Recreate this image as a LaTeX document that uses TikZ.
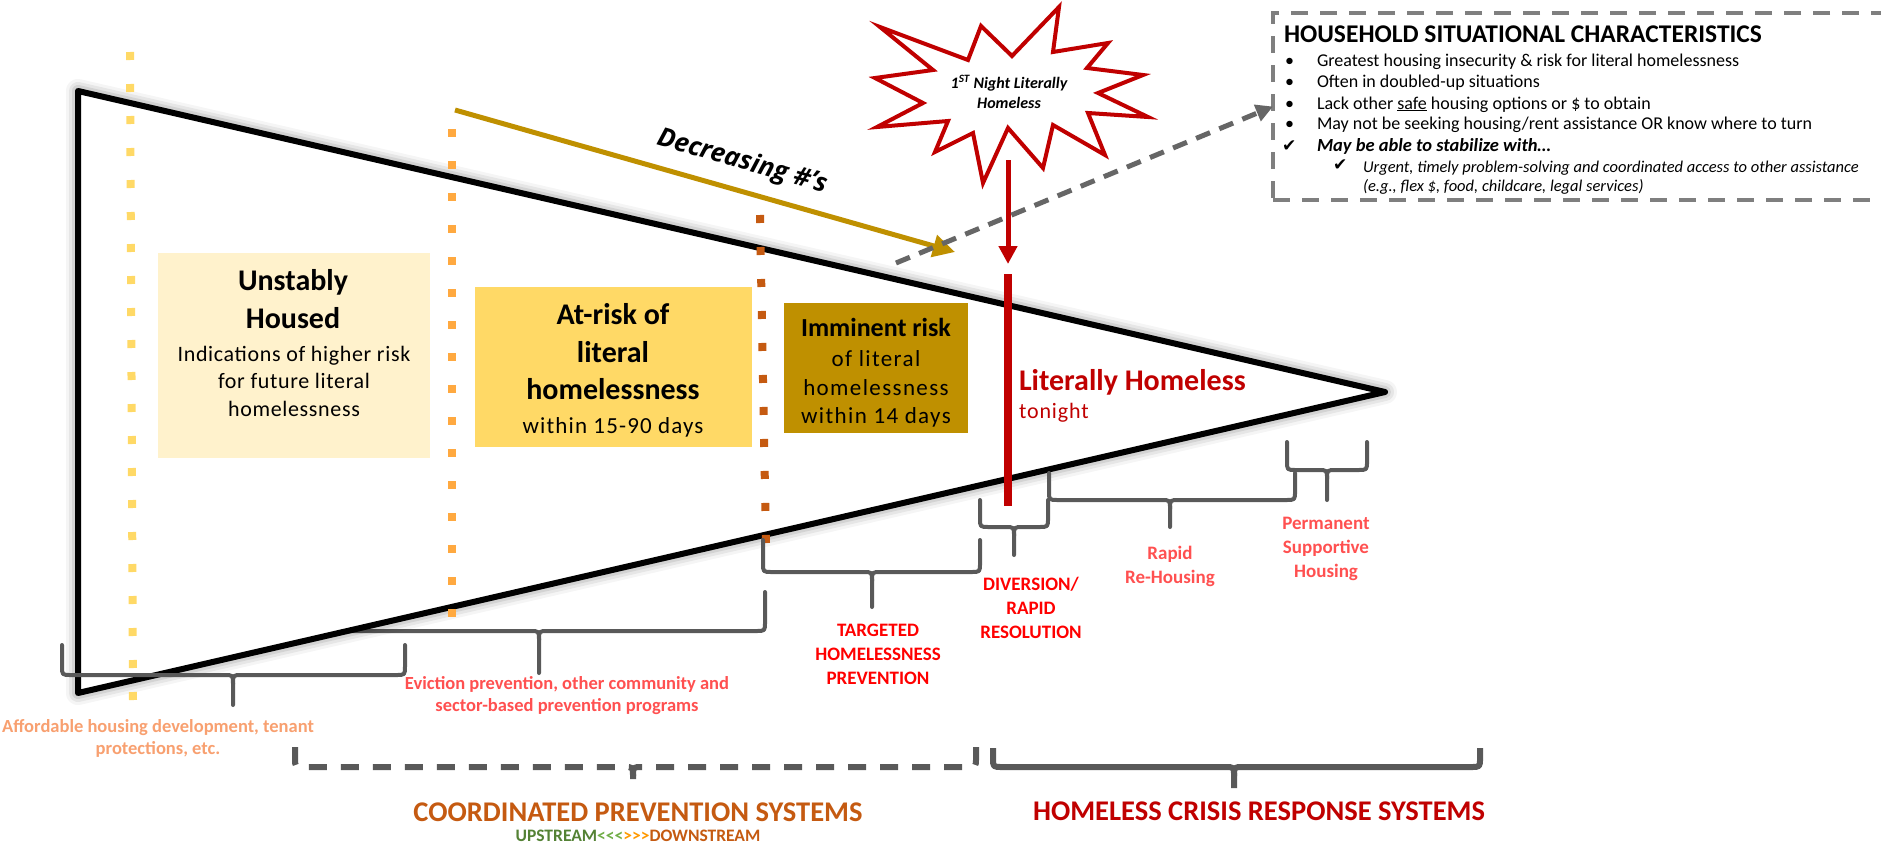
\documentclass[tikz,border=0pt]{standalone}
\usepackage{fontspec}
\setmainfont{Carlito}
\newfontfamily\carlnl{Carlito}
\newfontfamily\osans{Open Sans}
\newfontfamily\djv{DejaVu Sans}
\usetikzlibrary{arrows.meta}
\definecolor{cUnst}{HTML}{FFF2CC}
\definecolor{cRisk}{HTML}{FFD966}
\definecolor{cImm}{HTML}{BF9000}
\definecolor{dred}{HTML}{C00000}
\definecolor{bred}{HTML}{FF0000}
\definecolor{lred}{HTML}{FF5050}
\definecolor{peach}{HTML}{F8A070}
\definecolor{brn}{HTML}{C55A11}
\definecolor{bgray}{HTML}{595959}
\definecolor{hgray}{HTML}{7F7F7F}
\definecolor{agray}{HTML}{666666}
\definecolor{dgreen}{HTML}{548235}
\definecolor{lgreen}{HTML}{70AD47}
\definecolor{orng}{HTML}{FF9900}
\definecolor{dotY}{HTML}{FFD966}
\definecolor{dotO}{HTML}{FFA940}
\definecolor{dotB}{HTML}{C55A11}
\newcommand\myfs[2]{\fontsize{#1}{#2}\selectfont}
\newcommand\mybrace[7][]{%
  \draw[#1] (#2,#5) -- ({#2},{#6-9}) .. controls (#2,#6) .. ({#2+9},#6) -- ({#4-9},#6) .. controls (#4,#6) .. ({#4},{#6+9}) -- (#4,#7);
  \draw[#1] (#3,#5) -- ({#3},{#6-9}) .. controls (#3,#6) .. ({#3-9},#6) -- ({#4+9},#6) .. controls (#4,#6) .. ({#4},{#6+9});
}
\tikzset{
  every node/.style={inner sep=0pt, outer sep=0pt},
  brc/.style={draw=bgray, line width=4pt, line cap=round, line join=round},
  bigbrc/.style={draw=bgray, line width=6pt, line join=round},
  dashbrc/.style={draw=bgray, line width=6pt, dash pattern=on 18pt off 14pt},
  dotline/.style={line width=8pt, dash pattern=on 8pt off 24pt},
  boxfill/.style={anchor=north west, draw=none},
  titletxt/.style={font=\myfs{30}{37.5}\bfseries, align=center},
  subtxt/.style={font=\myfs{22}{27.5}\addfontfeature{LetterSpace=3}, align=center},
  lbl/.style={font=\myfs{18.5}{22}\bfseries, align=center},
  hhtxt/.style={anchor=west, font=\myfs{18}{21}, text height=12pt, text depth=4pt},
}
\begin{document}
\begin{tikzpicture}[x=1pt,y=-1pt]
\useasboundingbox (0,0) rectangle (1881,846);
\fill[white] (0,0) rectangle (1881,846);

% coordinates of the triangle
\coordinate (tl) at (78,91);
\coordinate (ap) at (1385,392);
\coordinate (bl) at (78,693);

% brace hidden partly behind the triangle
\mybrace[brc]{300}{765}{539}{592}{631}{673}

% soft shadow
\begin{scope}[shift={(-8,10)}]
  \foreach \w/\o in {24/0.04,18/0.06,12/0.08,6/0.12}
    \draw[line width=\w pt, black, opacity=\o, line join=round] (tl) -- (ap) -- (bl) -- cycle;
  \fill[black!40] (tl) -- (ap) -- (bl) -- cycle;
\end{scope}

% triangle
\draw[line width=6pt, line join=round, fill=white] (tl) -- (ap) -- (bl) -- cycle;

% dotted dividers
\draw[dotline, dotY] (130,52) -- (133,700);
\draw[dotline, dotO] (452,129) -- (452,620);
\draw[dotline, dotB] (760,215) -- (766,545);

% boxes
\node[boxfill, fill=cUnst, minimum width=272, minimum height=205] (ub) at (158,253) {};
\node[titletxt] (ut) at (293,299) {Unstably\\Housed};
\node[subtxt] (us) at (294,381) {Indications of higher risk\\for future literal\\homelessness};

\node[boxfill, fill=cRisk, minimum width=277, minimum height=160] (rb) at (475,287) {};
\node[titletxt] (rt) at (613,352) {At-risk of\\literal\\homelessness};
\node[font=\myfs{23}{28}\addfontfeature{LetterSpace=5}] (rs) at (613,427) {within 15-90 days};

\node[boxfill, fill=cImm, minimum width=184, minimum height=130] (ib) at (784,303) {};
\node[font=\myfs{26}{32}\bfseries] (it) at (876,327) {Imminent risk};
\node[font=\myfs{23}{28.5}\addfontfeature{LetterSpace=6}, align=center] (is) at (876,389) {of literal\\homelessness\\within 14 days};

% literally homeless
\node[anchor=west, font=\myfs{30}{36}\bfseries, text=dred] (lh) at (1019,382) {Literally Homeless};
\node[anchor=west, font=\myfs{22}{26}\addfontfeature{LetterSpace=4}, text=dred] (tn) at (1019,413) {tonight};

% red vertical line
\coordinate (rltop) at (1008,274);
\coordinate (rlbot) at (1008,506);
\draw[line width=8pt, dred] (rltop) -- (rlbot);

% star
\draw[line width=4pt, dred, fill=white, line join=miter, miter limit=10]
  (1059,7) -- (1053,52) -- (1108,43) -- (1087,68) -- (1143,75) -- (1098,93) -- (1148,117)
  -- (1088,113) -- (1105,155) -- (1053,125) -- (1043,168) -- (1008,128) -- (983,183)
  -- (973,133) -- (935,152) -- (948,121) -- (877,127) -- (923,103) -- (875,78)
  -- (933,70) -- (880,27) -- (968,60) -- (981,26) -- (1012,56) -- cycle;
\node[font=\myfs{16}{20}\bfseries\itshape, align=center] (st) at (1009,92) {1\textsuperscript{ST} Night Literally\\Homeless};
\coordinate (starbot) at (1008,160);
\coordinate (rarrend) at (1008,264);
\draw[line width=5pt, dred, -{Triangle[length=18pt,width=18pt]}] (starbot) -- (rarrend);

% decreasing arrow
\coordinate (gstart) at (455,110);
\coordinate (gend) at (955,252);
\draw[line width=5pt, cImm, -{Triangle[length=22pt,width=22pt]}] (gstart) -- (gend);
\node[rotate=-16, font=\osans\bfseries\itshape\myfs{26}{30}] (dec) at (742,162) {Decreasing \#’s};

% household box
\node[anchor=north west, draw=hgray, line width=3.5pt, dash pattern=on 17pt off 12pt, minimum width=620, minimum height=187] (hh) at (1273,13) {};
\coordinate (dstart) at (896,263);
\draw[line width=5pt, agray, dash pattern=on 15pt off 10pt, -{Triangle[length=17pt,width=17pt]}] (dstart) -- (hh.west);

\node[anchor=west, font=\myfs{25.5}{30}\bfseries] (hht) at (1284,34) {HOUSEHOLD SITUATIONAL CHARACTERISTICS};
\node[hhtxt] (hb1) at (1285,62) {\textbullet};
\node[hhtxt] (hl1) at (1317,62) {Greatest housing insecurity \& risk for literal homelessness};
\node[hhtxt] (hb2) at (1285,83) {\textbullet};
\node[hhtxt] (hl2) at (1317,83) {Often in doubled-up situations};
\node[hhtxt] (hb3) at (1285,105) {\textbullet};
\node[hhtxt] (hl3) at (1317,105) {Lack other \underline{safe} housing options or \$ to obtain};
\node[hhtxt] (hb4) at (1285,125) {\textbullet};
\node[hhtxt] (hl4) at (1317,125) {May not be seeking housing/rent assistance OR know where to turn};
\node[hhtxt, font=\djv\myfs{17}{20}] (hc5) at (1282,147) {✔};
\node[hhtxt, font=\myfs{18.5}{21}\bfseries\itshape] (hl5) at (1317,147) {May be able to stabilize with…};
\node[hhtxt, font=\djv\myfs{17}{20}] (hc6) at (1333,166) {✔};
\node[hhtxt, font=\myfs{16.5}{19}\itshape] (hl6) at (1363,168) {Urgent, timely problem-solving and coordinated access to other assistance};
\node[hhtxt, font=\myfs{16.5}{19}\itshape] (hl7) at (1363,187) {(e.g., flex \$, food, childcare,  legal services)};

% braces
\mybrace[brc]{62}{405}{233}{645}{675}{705}
\mybrace[brc]{763}{980}{872}{540}{572}{607}
\mybrace[brc]{980}{1048}{1014}{500}{527}{555}
\mybrace[brc]{1049}{1295}{1170}{473}{500}{527}
\mybrace[brc]{1287}{1367}{1327}{442}{470}{500}
\mybrace[dashbrc]{295}{976}{633}{747}{767}{779}
\mybrace[bigbrc]{993}{1480}{1234}{748}{767}{788}

% labels
\node[lbl, text=peach] (la) at (158,738) {Affordable housing development, tenant\\protections, etc.};
\node[lbl, text=lred] (le) at (567,696) {Eviction prevention, other community and\\sector-based prevention programs};
\node[lbl, font=\myfs{19}{24}\bfseries, text=bred] (lt) at (878,654) {TARGETED\\HOMELESSNESS\\PREVENTION};
\node[lbl, font=\myfs{19}{24}\bfseries, text=bred] (ld) at (1031,608) {DIVERSION/\\RAPID\\RESOLUTION};
\node[lbl, font=\myfs{19}{24}\bfseries, text=lred] (lr) at (1170,566) {Rapid\\Re-Housing};
\node[lbl, font=\myfs{19}{24}\bfseries, text=lred] (lp) at (1326,549) {Permanent\\Supportive\\Housing};

\node[font=\myfs{28.5}{33}\bfseries, text=brn] (cps) at (638,812) {COORDINATED PREVENTION SYSTEMS};
\node[font=\carlnl\myfs{17.5}{20}\bfseries] (ud) at (638,836) {\textcolor{dgreen}{UPSTREAM}\textcolor{lgreen}{<<<}\textcolor{orng}{>>>}\textcolor{brn}{DOWNSTREAM}};
\node[font=\myfs{28.5}{33}\bfseries, text=dred] (hcr) at (1259,811) {HOMELESS CRISIS RESPONSE SYSTEMS};
\end{tikzpicture}
\end{document}
